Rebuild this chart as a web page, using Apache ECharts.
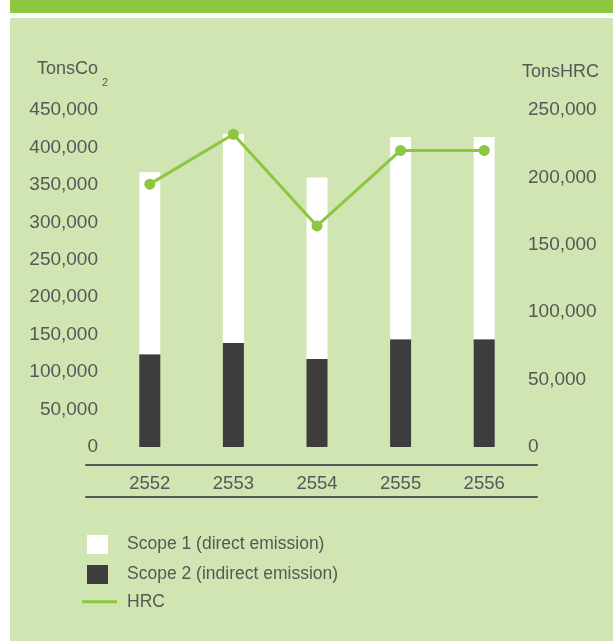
<!DOCTYPE html>
<html>
<head>
<meta charset="utf-8">
<script src="https://cdn.jsdelivr.net/npm/echarts@6/dist/echarts.min.js"></script>
<style>
  html, body { margin: 0; padding: 0; background: #ffffff; }
  #wrap { position: relative; width: 613px; height: 641px; overflow: hidden; }
  #band { position: absolute; left: 10px; top: 0; width: 603px; height: 13px; background: #8DC63F; }
  #panel { position: absolute; left: 10px; top: 18px; width: 603px; height: 623px; background: #D1E5B2; }
  #chart { position: absolute; left: 0; top: 0; width: 613px; height: 641px; }
</style>
</head>
<body>
<div id="wrap">
  <div id="band"></div>
  <div id="panel"></div>
  <div id="chart"></div>
</div>
<script>
// ---- data ----
const years = ['2552', '2553', '2554', '2555', '2556'];
const scope1 = [243000, 279000, 242500, 270000, 270000];   // direct emission (white, top)
const scope2 = [124000, 139000, 117500, 144000, 144000];   // indirect emission (dark, bottom)
const hrc = [195000, 232000, 164000, 220000, 220000];      // TonsHRC (right axis)
const leftTicks = [0, 50000, 100000, 150000, 200000, 250000, 300000, 350000, 400000, 450000];
const rightTicks = [0, 50000, 100000, 150000, 200000, 250000];
const seriesNames = ['Scope 1 (direct emission)', 'Scope 2 (indirect emission)', 'HRC'];

const FONT = 'Liberation Sans, Arial, sans-serif';
const TXT = '#575757';
const fmt = v => Number(v).toLocaleString('en-US');

const chart = echarts.init(document.getElementById('chart'), null, { renderer: 'canvas' });
chart.setOption({
  animation: false,
  backgroundColor: 'transparent',
  textStyle: { fontFamily: FONT },
  title: [
    { text: 'TonsCo', left: 37, top: 60, padding: 0,
      textStyle: { fontSize: 18, fontWeight: 'normal', color: TXT, fontFamily: FONT } },
    { text: '2', left: 102, top: 77, padding: 0,
      textStyle: { fontSize: 11, fontWeight: 'normal', color: TXT, fontFamily: FONT } },
    { text: 'TonsHRC', left: 522, top: 63, padding: 0,
      textStyle: { fontSize: 18, fontWeight: 'normal', color: TXT, fontFamily: FONT } }
  ],
  legend: [
    {
      data: [seriesNames[0], seriesNames[1]],
      orient: 'vertical', left: 87, top: 530.5, padding: 0,
      itemWidth: 21, itemHeight: 19, itemGap: 2, icon: 'rect',
      selectedMode: false,
      textStyle: { fontSize: 17.5, color: TXT, fontFamily: FONT, lineHeight: 18, padding: [0, 0, 10, 14] }
    },
    {
      data: [{ name: seriesNames[2], icon: 'rect' }],
      orient: 'vertical', left: 82, top: 590.7, padding: 0,
      itemWidth: 35, itemHeight: 3,
      selectedMode: false,
      textStyle: { fontSize: 17.5, color: TXT, fontFamily: FONT, lineHeight: 18, padding: [4, 0, 0, 5] }
    }
  ],
  grid: [
    { left: 108, right: 87, top: 110, height: 337, containLabel: false, outerBoundsMode: 'none' },
    { left: 86, right: 76, top: 465, height: 32, containLabel: false, outerBoundsMode: 'none' }
  ],
  xAxis: [
    {
      type: 'category', data: years, gridIndex: 0,
      axisLine: { show: false }, axisTick: { show: false },
      axisLabel: { margin: 27, fontSize: 18.5, color: TXT, fontFamily: FONT },
      splitLine: { show: false }
    },
    {
      type: 'value', gridIndex: 1, position: 'bottom',
      axisLine: { show: true, lineStyle: { color: '#555555', width: 2 } },
      axisTick: { show: false }, axisLabel: { show: false }, splitLine: { show: false }
    },
    {
      type: 'value', gridIndex: 1, position: 'top',
      axisLine: { show: true, lineStyle: { color: '#555555', width: 2 } },
      axisTick: { show: false }, axisLabel: { show: false }, splitLine: { show: false }
    }
  ],
  yAxis: [
    {
      type: 'value', gridIndex: 0, position: 'left',
      min: leftTicks[0], max: leftTicks[leftTicks.length - 1], interval: leftTicks[1] - leftTicks[0],
      axisLine: { show: false }, axisTick: { show: false }, splitLine: { show: false },
      axisLabel: { margin: 10, fontSize: 19, color: TXT, fontFamily: FONT, formatter: fmt }
    },
    {
      type: 'value', gridIndex: 0, position: 'right',
      min: rightTicks[0], max: rightTicks[rightTicks.length - 1], interval: rightTicks[1] - rightTicks[0],
      axisLine: { show: false }, axisTick: { show: false }, splitLine: { show: false },
      axisLabel: { margin: 2, fontSize: 19, color: TXT, fontFamily: FONT, formatter: fmt }
    },
    { type: 'value', gridIndex: 1, show: false }
  ],
  series: [
    {
      name: seriesNames[1], type: 'bar', stack: 'em', data: scope2,
      xAxisIndex: 0, yAxisIndex: 0, barWidth: 21,
      itemStyle: { color: '#3D3D3D' }
    },
    {
      name: seriesNames[0], type: 'bar', stack: 'em', data: scope1,
      xAxisIndex: 0, yAxisIndex: 0, barWidth: 21,
      itemStyle: { color: '#FFFFFF' }
    },
    {
      name: seriesNames[2], type: 'line', data: hrc,
      xAxisIndex: 0, yAxisIndex: 1,
      symbol: 'circle', symbolSize: 11, showSymbol: true,
      lineStyle: { color: '#8DC63F', width: 3 },
      itemStyle: { color: '#8DC63F' }
    }
  ]
});
</script>
</body>
</html>
